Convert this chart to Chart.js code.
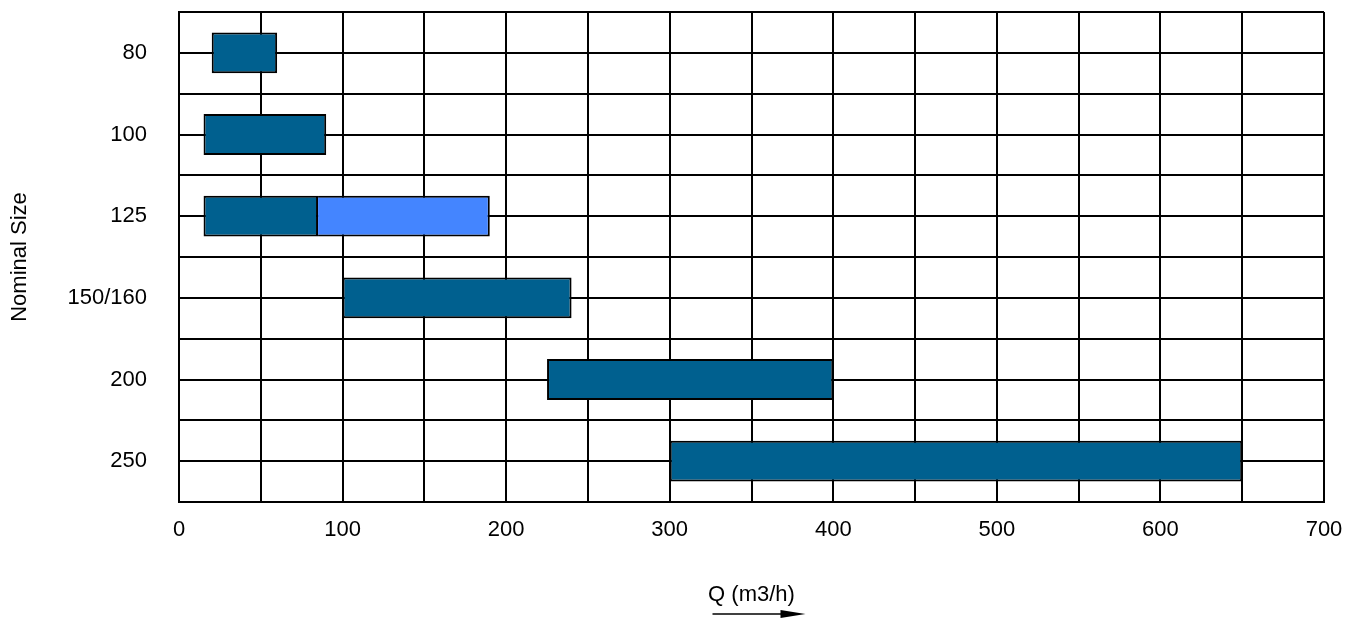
<!DOCTYPE html>
<html>
<head>
<meta charset="utf-8">
<script src="https://cdn.jsdelivr.net/npm/chart.js@4.4.0/dist/chart.umd.min.js"></script>
<style>
  html, body { margin: 0; padding: 0; background: #fff; }
  #holder { width: 1347px; height: 619px; }
</style>
</head>
<body>
<div id="holder"><canvas id="chart" width="1347" height="619"></canvas></div>
<script>
// Nominal sizes, top to bottom
const sizes = ['80', '100', '125', '150/160', '200', '250'];
// Flow ranges, m3/h [from, to]
const mainRange = [[20, 60], [15, 90], [15, 85], [100, 240], [225, 400], [300, 650]];
const extRange = [null, null, [85, 190], null, null, null];

const darkBlue = '#00608F';
const lightBlue = '#4485FF';
const FONT = { family: 'Arial, "Liberation Sans", sans-serif', size: 22 };

// Arrow under the x axis title
const arrowPlugin = {
    id: 'qArrow',
    afterDraw(chart) {
        const ctx = chart.ctx;
        const area = chart.chartArea;
        const cx = (area.left + area.right) / 2 + 7;
        const y = 614;
        ctx.save();
        ctx.strokeStyle = '#000';
        ctx.fillStyle = '#000';
        ctx.lineWidth = 1.5;
        ctx.beginPath();
        ctx.moveTo(cx - 46, y);
        ctx.lineTo(cx + 30, y);
        ctx.stroke();
        ctx.beginPath();
        ctx.moveTo(cx + 47, y);
        ctx.lineTo(cx + 22, y - 4);
        ctx.lineTo(cx + 22, y + 4);
        ctx.closePath();
        ctx.fill();
        ctx.restore();
    }
};

new Chart(document.getElementById('chart').getContext('2d'), {
    type: 'bar',
    data: {
        labels: sizes,
        datasets: [
            {
                data: mainRange,
                backgroundColor: darkBlue,
                borderColor: '#000',
                borderWidth: 2,
                borderSkipped: false,
                grouped: false,
                barPercentage: 0.5,
                categoryPercentage: 1
            },
            {
                // extension bar shares the dark bar's right edge as its divider
                data: extRange,
                backgroundColor: lightBlue,
                borderColor: '#000',
                borderWidth: 2,
                borderSkipped: 'left',
                grouped: false,
                barPercentage: 0.5,
                categoryPercentage: 1
            }
        ]
    },
    options: {
        indexAxis: 'y',
        responsive: false,
        animation: false,
        layout: { padding: { left: 7, right: 23, top: 12, bottom: 0 } },
        scales: {
            x: {
                type: 'linear',
                min: 0,
                max: 700,
                ticks: {
                    stepSize: 50,
                    color: '#000',
                    font: FONT,
                    padding: 15,
                    maxRotation: 0,
                    callback: function (value) {
                        return value % 100 === 0 ? value : '';
                    }
                },
                grid: { color: '#000', lineWidth: 2, drawTicks: false },
                border: { color: '#000', width: 2 },
                title: {
                    display: true,
                    text: 'Q (m3/h)',
                    color: '#000',
                    font: FONT,
                    padding: { top: 0, bottom: 11 }
                },
                // fixed height, no extra side padding
                afterFit: function (scale) {
                    scale.height = 117;
                    scale.paddingLeft = 0;
                    scale.paddingRight = 0;
                }
            },
            y: {
                type: 'category',
                offset: true,
                ticks: { color: '#000', font: FONT, padding: 32 },
                grid: { color: '#000', lineWidth: 2, drawTicks: false, offset: true },
                border: { color: '#000', width: 2 },
                title: {
                    display: true,
                    text: 'Nominal Size',
                    color: '#000',
                    font: FONT,
                    padding: { top: 0, bottom: 0 }
                },
                afterFit: function (scale) {
                    scale.width = 172;
                    scale.paddingTop = 0;
                    scale.paddingBottom = 0;
                }
            },
            // only draws the grid lines through the middle of each row
            yMid: {
                type: 'category',
                labels: sizes,
                position: 'left',
                offset: true,
                ticks: { display: false },
                grid: { color: '#000', lineWidth: 2, drawTicks: false, offset: false },
                border: { display: false },
                afterFit: function (scale) {
                    scale.width = 0;
                    scale.paddingTop = 0;
                    scale.paddingBottom = 0;
                }
            }
        },
        plugins: {
            legend: { display: false },
            tooltip: { enabled: false }
        }
    },
    plugins: [arrowPlugin]
});
</script>
</body>
</html>
